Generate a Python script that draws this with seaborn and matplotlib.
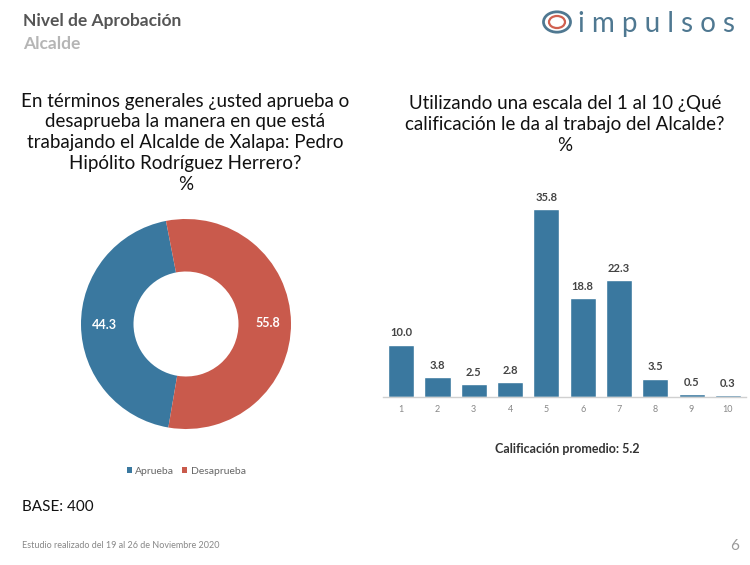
import numpy as np
import pandas as pd
import matplotlib.pyplot as plt
import seaborn as sns
from matplotlib.patches import Circle

sns.set_theme(style="white")
plt.rcParams['font.family'] = ['Lato', 'DejaVu Sans']

BLUE = '#3a789f'
RED = '#c95a4c'

# Donut data
approval_labels = ['Aprueba', 'Desaprueba']
approval_values = [44.3, 55.8]

# Bar data
scores = ['1', '2', '3', '4', '5', '6', '7', '8', '9', '10']
score_pct = [10.0, 3.8, 2.5, 2.8, 35.8, 18.8, 22.3, 3.5, 0.5, 0.3]

fig = plt.figure(figsize=(7.5, 5.65), dpi=100)
fig.patch.set_facecolor('white')

# Header
fig.text(0.031, 0.962, 'Nivel de Aprobación', fontsize=12.5, fontweight='bold',
         color='#555555', ha='left', va='center')
fig.text(0.031, 0.922, 'Alcalde', fontsize=12.5, fontweight='bold',
         color='#b5b5b5', ha='left', va='center')

# Logo
fig.patches.append(Circle((557 / 750, 1 - 22 / 565), 13.5 / 750, transform=fig.transFigure,
                          fill=False, edgecolor='#4f7891', linewidth=2.0))
fig.patches.append(Circle((557 / 750, 1 - 22 / 565), 8 / 750, transform=fig.transFigure,
                          fill=False, edgecolor='#d0604f', linewidth=1.6))
fig.text(0.771, 0.958, 'i m p u l s o s', fontsize=20, color='#4f7891', ha='left',
         va='center')

# Left question
fig.text(0.247, 0.836,
         'En términos generales ¿usted aprueba o\n'
         'desaprueba la manera en que está\n'
         'trabajando el Alcalde de Xalapa: Pedro\n'
         'Hipólito Rodríguez Herrero?\n%',
         fontsize=13.5, color='#111111', ha='center', va='top', linespacing=1.27)

# Right question
fig.text(0.753, 0.831,
         'Utilizando una escala del 1 al 10 ¿Qué\n'
         'calificación le da al trabajo del Alcalde?\n%',
         fontsize=13.5, color='#111111', ha='center', va='top', linespacing=1.27)

# Donut
ax1 = fig.add_axes([0.108, 0.2407, 0.28, 0.3717])
wedges, _ = ax1.pie(approval_values, colors=[BLUE, RED], startangle=101,
                    radius=1.0, wedgeprops=dict(width=0.5, edgecolor='none'))
for w, v in zip(wedges, approval_values):
    ang = np.deg2rad((w.theta1 + w.theta2) / 2)
    ax1.text(0.78 * np.cos(ang), 0.78 * np.sin(ang), f'{v:.1f}', color='white',
             fontsize=9, fontweight='bold', ha='center', va='center')
ax1.set_xlim(-1, 1)
ax1.set_ylim(-1, 1)
ax1.set_aspect('auto')
ax1.axis('off')
leg = ax1.legend(wedges, approval_labels, loc='center', bbox_to_anchor=(0.5, -0.2),
                 ncol=2, frameon=False, fontsize=7.5, handlelength=0.5, handleheight=0.5,
                 handletextpad=0.3, columnspacing=0.8)
for t in leg.get_texts():
    t.set_color('#666666')

# Bars
ax2 = fig.add_axes([0.5107, 0.2973, 0.484, 0.3717])
df = pd.DataFrame({'score': scores, 'pct': score_pct})
sns.barplot(data=df, x='score', y='pct', color=BLUE, width=0.72, saturation=1, ax=ax2)
for p, v in zip(ax2.patches, score_pct):
    ax2.text(p.get_x() + p.get_width() / 2, p.get_height() + 1.2, f'{v:.1f}',
             ha='center', va='bottom', fontsize=8, fontweight='bold', color='#444444')
ax2.set_ylim(0, 40)
ax2.set_xlim(-0.5, 9.5)
ax2.set_xlabel('')
ax2.set_ylabel('')
ax2.set_yticks([])
for s in ['top', 'right', 'left']:
    ax2.spines[s].set_visible(False)
ax2.spines['bottom'].set_color('#d0d0d0')
ax2.spines['bottom'].set_linewidth(1)
ax2.tick_params(axis='x', length=0, labelsize=6.5, labelcolor='#888888', pad=6)
ax2.set_facecolor('none')

fig.text(0.757, 0.205, 'Calificación promedio: 5.2', fontsize=9, fontweight='bold',
         color='#333333', ha='center', va='center')

# Footer
fig.text(0.029, 0.103, 'BASE: 400', fontsize=11, color='#111111', ha='left', va='center')
fig.text(0.029, 0.035, 'Estudio realizado del 19 al 26 de Noviembre 2020', fontsize=6.5,
         color='#888888', ha='left', va='center')
fig.text(0.98, 0.033, '6', fontsize=11, color='#999999', ha='center', va='center')

fig.savefig('out.png', dpi=100, facecolor='white')
